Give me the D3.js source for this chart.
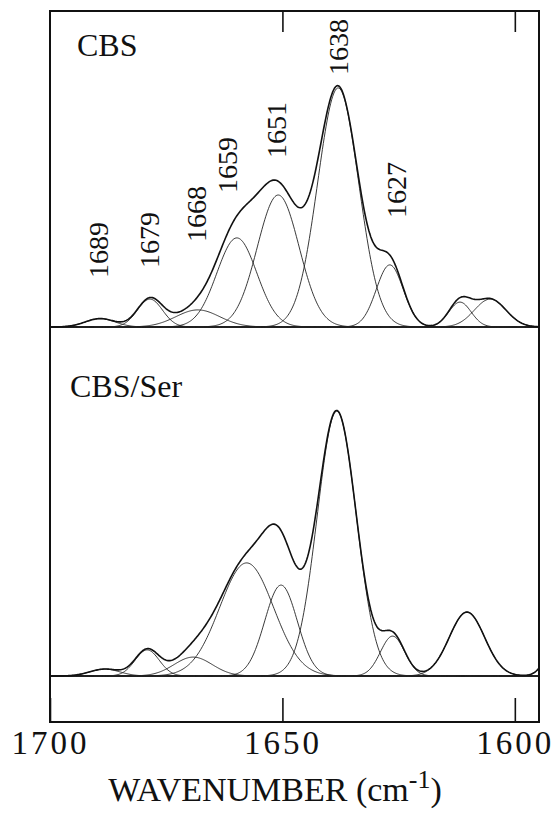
<!DOCTYPE html>
<html>
<head>
<meta charset="utf-8">
<script src="https://cdn.jsdelivr.net/npm/d3@7"></script>
<style>
  body { margin: 0; background: #fff; }
  text { font-family: "Liberation Serif", "Times New Roman", serif; fill: #111; }
</style>
</head>
<body>
<svg width="559" height="827"></svg>
<script>
// band fits: centre (cm-1), height (rel. absorbance), sigma (cm-1)
const cbsCenters = [1689.2, 1678.5, 1668.2, 1659.8, 1650.9, 1638.0, 1626.9, 1611.8, 1605.3];
const cbsHeights = [0.028, 0.093, 0.057, 0.297, 0.440, 0.797, 0.207, 0.083, 0.093];
const cbsWidths  = [3.2, 2.7, 4.7, 4.3, 4.5, 4.4, 2.9, 2.4, 3.4];

const serCenters = [1688.2, 1679.1, 1669.2, 1657.7, 1650.3, 1638.3, 1626.3, 1610.3, 1590.5];
const serHeights = [0.023, 0.087, 0.063, 0.377, 0.303, 0.883, 0.133, 0.213, 0.133];
const serWidths  = [3.2, 2.6, 4.1, 5.8, 3.5, 4.2, 2.6, 3.8, 2.4];

const peakLabels = ['1689', '1679', '1668', '1659', '1651', '1638', '1627'];
const labelAnchors = [[1689.5, 0.163], [1678.5, 0.197], [1668.4, 0.283], [1661.7, 0.447],
                      [1651.2, 0.563], [1637.8, 0.84], [1625.3, 0.363]];

const tickValues = [1700, 1650, 1600];
const topTicks = [1650, 1600];
const panelNames = ['CBS', 'CBS/Ser'];

const serif = '"Liberation Serif", "Times New Roman", serif';
const svg = d3.select('svg');
const frame = {left: 50, right: 539, top: 11, bottom: 722};

const x = d3.scaleLinear()
    .domain([1700, 1594.8])
    .range([frame.left, frame.right]);

const yTop = d3.scaleLinear().domain([0, 1]).range([327, 27]);
const yBot = d3.scaleLinear().domain([0, 1]).range([676, 376]);

const grid = d3.range(1700, 1594.8, -0.2).concat([1594.8]);

const gauss = (c, h, s) => nu => h * Math.exp(-((nu - c) ** 2) / (2 * s * s));

const drawPanel = (centers, heights, widths, y) => {
    const bands = centers.map((c, i) => gauss(c, heights[i], widths[i]));
    const line = d3.line().x(d => x(d[0])).y(d => y(d[1]));

    // baseline
    svg.append('line')
        .attr('x1', frame.left).attr('x2', frame.right)
        .attr('y1', y(0)).attr('y2', y(0))
        .attr('stroke', '#111').attr('stroke-width', 1.6);

    bands.forEach(f => {
        svg.append('path')
            .datum(grid.map(nu => [nu, f(nu)]))
            .attr('d', line)
            .attr('fill', 'none')
            .attr('stroke', '#222')
            .attr('stroke-width', 0.9);
    });

    svg.append('path')
        .datum(grid.map(nu => [nu, d3.sum(bands, f => f(nu))]))
        .attr('d', line)
        .attr('fill', 'none')
        .attr('stroke', '#111')
        .attr('stroke-width', 1.6);
};

drawPanel(cbsCenters, cbsHeights, cbsWidths, yTop);
drawPanel(serCenters, serHeights, serWidths, yBot);

// frame
svg.append('rect')
    .attr('x', frame.left).attr('y', frame.top)
    .attr('width', frame.right - frame.left)
    .attr('height', frame.bottom - frame.top)
    .attr('fill', 'none')
    .attr('stroke', '#111')
    .attr('stroke-width', 2);

// bottom axis, ticks pointing inward
const xAxis = svg.append('g')
    .attr('transform', `translate(0,${frame.bottom})`)
    .call(d3.axisBottom(x).tickValues(tickValues).tickSize(-24).tickPadding(9)
        .tickFormat(d3.format('d')));
xAxis.select('.domain').remove();
xAxis.selectAll('line').attr('stroke', '#111').attr('stroke-width', 1.6);
xAxis.selectAll('text')
    .attr('font-family', serif)
    .attr('font-size', 33)
    .attr('letter-spacing', 3)
    .attr('fill', '#111');

// top axis, unlabeled
const xTop = svg.append('g')
    .attr('transform', `translate(0,${frame.top})`)
    .call(d3.axisTop(x).tickValues(topTicks).tickSize(-21).tickFormat(''));
xTop.select('.domain').remove();
xTop.selectAll('line').attr('stroke', '#111').attr('stroke-width', 1.6);

// panel names
svg.append('text').attr('x', 77).attr('y', 56).attr('font-size', 32).text(panelNames[0]);
svg.append('text').attr('x', 70).attr('y', 397).attr('font-size', 32).text(panelNames[1]);

// peak labels, rotated
svg.selectAll('.peak').data(peakLabels)
    .enter().append('text')
        .attr('class', 'peak')
        .attr('font-family', serif)
        .attr('font-size', 28)
        .attr('dy', '0.33em')
        .attr('transform', (d, i) =>
            `translate(${x(labelAnchors[i][0])},${yTop(labelAnchors[i][1])}) rotate(-90)`)
        .text(d => d);

// axis title
const title = svg.append('text')
    .attr('x', 275).attr('y', 801)
    .attr('text-anchor', 'middle')
    .attr('font-family', serif)
    .attr('font-size', 34);
title.append('tspan').text('WAVENUMBER (cm');
title.append('tspan').attr('font-size', 26).attr('dy', -13).text('-1');
title.append('tspan').attr('dy', 13).text(')');
</script>
</body>
</html>
